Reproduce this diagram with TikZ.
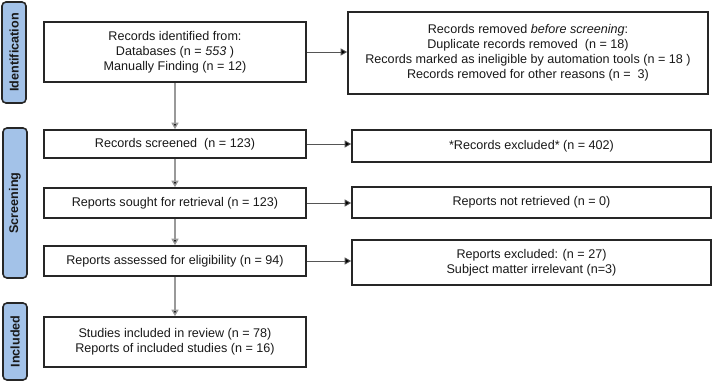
\documentclass[tikz,border=0pt]{standalone}
\usepackage{fontspec}
\setmainfont{Liberation Sans}
\usetikzlibrary{arrows.meta}
\definecolor{boxline}{HTML}{262626}
\definecolor{labfill}{HTML}{A3C2E8}
\definecolor{vline}{HTML}{999999}
\definecolor{hline}{HTML}{555555}
\tikzset{
  flowbox/.style={draw=boxline, line width=1.6pt, fill=white, inner sep=0pt,
    align=center, text=black!90, font=\fontsize{12.6}{15}\selectfont},
  phase/.style={draw=boxline, line width=1.6pt, fill=labfill, rounded corners=4pt,
    rotate=90, inner sep=0pt, minimum height=24pt,
    font=\bfseries\fontsize{12.6}{15}\selectfont, text=black!90},
  varrow/.style={draw=vline, line width=1.4pt, -{Triangle[length=6.5pt,width=7pt,fill=black]}},
  harrow/.style={draw=hline, line width=0.9pt, -{Triangle[length=6.5pt,width=7pt,fill=black]}}
}
\begin{document}
\begin{tikzpicture}[x=1pt,y=-1pt]
\useasboundingbox (0,0) rectangle (713,382);
% phase labels
\node[phase, minimum width=101pt] (pid) at (14,52.5) {Identification};
\node[phase, minimum width=150pt] (psc) at (15,203) {Screening};
\node[phase, minimum width=77pt] (pin) at (15,341.5) {Included};
% left column
\node[flowbox, minimum width=262pt, minimum height=60pt] (ident) at (175,52)
  {Records identified from:\\Databases (n = \textit{553} )\\Manually Finding (n = 12)};
\node[flowbox, minimum width=262pt, minimum height=28pt] (screen) at (175,144)
  {Records screened\ \ (n = 123)};
\node[flowbox, minimum width=262pt, minimum height=30pt] (sought) at (175,203)
  {Reports sought for retrieval\ (n = 123)};
\node[flowbox, minimum width=262pt, minimum height=30pt] (assess) at (175,261)
  {Reports assessed for eligibility (n = 94)};
\node[flowbox, minimum width=262pt, minimum height=50pt] (incl) at (175,342)
  {Studies included in review (n = 78)\\Reports of included studies (n = 16)};
% right column
\node[flowbox, minimum width=360pt, minimum height=82pt] (removed) at (528,53)
  {Records removed \textit{before screening}:\\Duplicate records removed\ \ (n = 18)\\Records marked as ineligible by automation tools (n = 18 )\\Records removed for other reasons (n =\ \ 3)};
\node[flowbox, minimum width=359pt, minimum height=32pt] (excl) at (531.5,146)
  {*Records excluded* (n = 402)};
\node[flowbox, minimum width=359pt, minimum height=31pt] (notret) at (531.5,202.5)
  {Reports not retrieved (n = 0)};
\node[flowbox, minimum width=359pt, minimum height=45pt] (repexcl) at (531.5,262.5)
  {Reports excluded: (n = 27)\\Subject matter irrelevant (n=3)};
% vertical arrows
\draw[varrow] (ident.south) -- (screen.north);
\draw[varrow] (screen.south) -- (sought.north);
\draw[varrow] (sought.south) -- (assess.north);
\draw[varrow] (assess.south) -- (incl.north);
% horizontal arrows
\draw[harrow] (ident.east) -- (ident.east -| removed.west);
\draw[harrow] (screen.east) -- (screen.east -| excl.west);
\draw[harrow] (sought.east) -- (sought.east -| notret.west);
\draw[harrow] (assess.east) -- (assess.east -| repexcl.west);
\end{tikzpicture}
\end{document}
